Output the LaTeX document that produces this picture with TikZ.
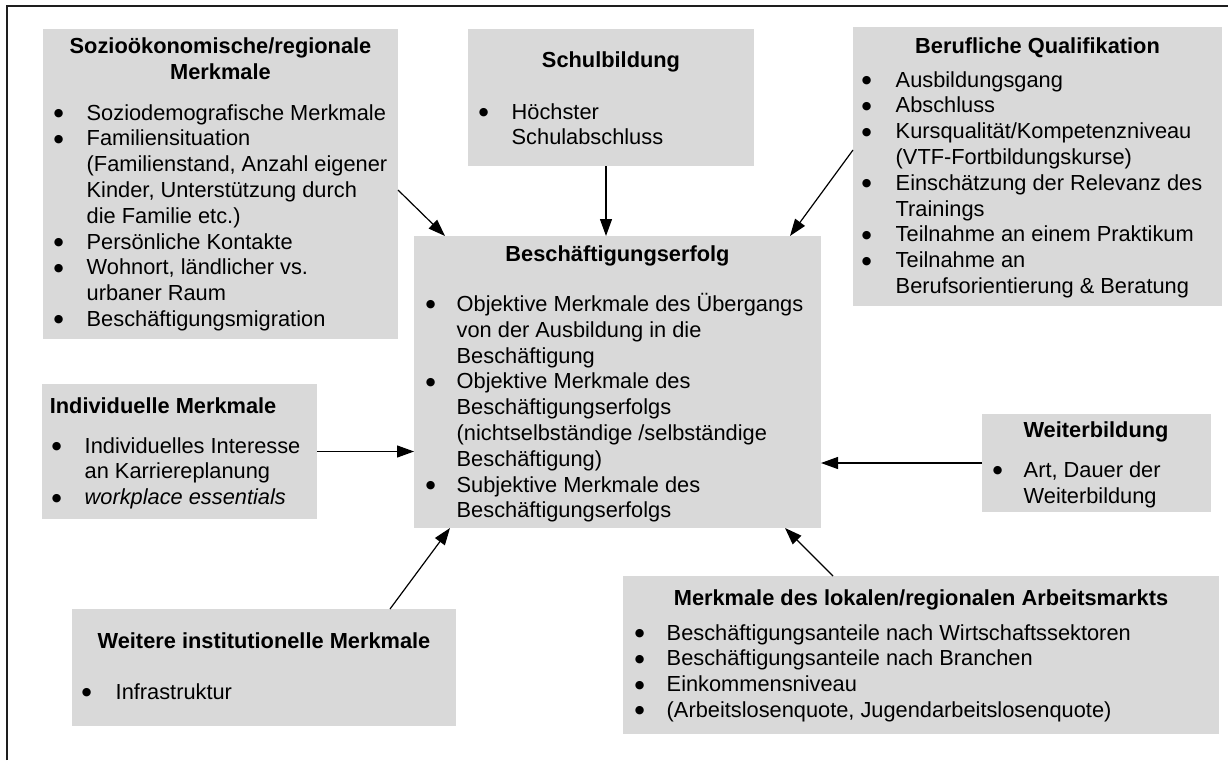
\documentclass[tikz,border=0pt]{standalone}
\usepackage{fontspec}
\setmainfont{Liberation Sans}
\newfontfamily\symfont{DejaVu Sans}
\usetikzlibrary{arrows.meta}
\definecolor{boxgray}{RGB}{217,217,217}
\definecolor{framegray}{RGB}{30,30,30}

% bullet cell of a list row
\newlength\bw
\newcommand\bl{\makebox[\bw][l]{\raisebox{3.6pt}{\symfont\fontsize{11pt}{11pt}\selectfont ●}}}

% grey box: name, x1, y1, x2, y2 (y grows downwards)
\newcommand\gbox[5]{%
  \node[box, minimum width={(#4-#2)*1pt}, minimum height={(#5-#3)*1pt}] (#1) at (#2,#3) {};}

% bullet list: name, bullet centre x, text x, first baseline, rows
\newcommand\blist[5]{%
  \setlength\bw{\dimexpr #3pt-#2pt+1.9pt\relax}%
  \node[lst] (#1) at (#2-3.4,#4) {\begin{tabular}[t]{@{}l@{}l@{}}#5\end{tabular}};}

\tikzset{
  box/.style={fill=boxgray, draw=none, inner sep=0pt, outer sep=0pt, anchor=north west},
  ttl/.style={font=\fontsize{21.8pt}{25.8pt}\selectfont\bfseries, inner sep=0pt, anchor=base},
  lst/.style={font=\fontsize{21.8pt}{25.8pt}\selectfont, inner sep=0pt, anchor=base west},
  arr/.style={line width=1.2pt, -{Triangle[length=17pt,width=12pt]}},
  frame/.style={line width=2pt, draw=framegray},
}

\begin{document}
\begin{tikzpicture}[x=1pt,y=-1pt]
\useasboundingbox (0,0) rectangle (1228,760);

% outer frame (only its top and left sides fall inside the page)
\draw[frame] (7,760) -- (7,6) -- (1228,6);

% boxes
\gbox{soz}{43}{29}{398}{339}
\gbox{schul}{468}{29}{754}{166}
\gbox{beruf}{853}{27}{1222}{306}
\gbox{cen}{414}{236}{821}{528}
\gbox{indiv}{42}{384}{317}{519}
\gbox{weit}{72}{609}{456}{726}
\gbox{wb}{982}{414}{1211}{512}
\gbox{lok}{623}{576}{1219}{734}

% titles
\node[ttl] (soz-t) at (220.5,54) {\begin{tabular}[t]{@{}c@{}}Sozioökonomische/regionale\\Merkmale\end{tabular}};
\node[ttl] (schul-t) at (611,67) {Schulbildung};
\node[ttl] (beruf-t) at (1037.5,54) {Berufliche Qualifikation};
\node[ttl] (cen-t) at (617.5,261) {Beschäftigungserfolg};
\node[ttl, anchor=base west] (indiv-t) at (49.6,413) {Individuelle Merkmale};
\node[ttl] (weit-t) at (264,648) {Weitere institutionelle Merkmale};
\node[ttl] (wb-t) at (1096,437.5) {Weiterbildung};
\node[ttl] (lok-t) at (921,605) {Merkmale des lokalen/regionalen Arbeitsmarkts};

% lists
\blist{soz-l}{57}{88}{120}{%
\bl & Soziodemografische Merkmale\\
\bl & Familiensituation\\
& (Familienstand, Anzahl eigener\\
& Kinder, Unterstützung durch\\
& die Familie etc.)\\
\bl & Persönliche Kontakte\\
\bl & Wohnort, ländlicher vs.\\
& urbaner Raum\\
\bl & Beschäftigungsmigration}

\blist{schul-l}{482}{513}{119}{%
\bl & Höchster\\
& Schulabschluss}

\blist{beruf-l}{865}{897}{87}{%
\bl & Ausbildungsgang\\
\bl & Abschluss\\
\bl & Kursqualität/Kompetenzniveau\\
& (VTF-Fortbildungskurse)\\
\bl & Einschätzung der Relevanz des\\
& Trainings\\
\bl & Teilnahme an einem Praktikum\\
\bl & Teilnahme an\\
& Berufsorientierung \& Beratung}

\blist{cen-l}{429}{458}{311.5}{%
\bl & Objektive Merkmale des Übergangs\\
& von der Ausbildung in die\\
& Beschäftigung\\
\bl & Objektive Merkmale des\\
& Beschäftigungserfolgs\\
& (nichtselbständige /selbständige\\
& Beschäftigung)\\
\bl & Subjektive Merkmale des\\
& Beschäftigungserfolgs}

\blist{indiv-l}{55}{86}{453}{%
\bl & Individuelles Interesse\\
& an Karriereplanung\\
\bl & \textit{workplace essentials}}

\blist{weit-l}{85}{117}{699}{%
\bl & Infrastruktur}

\blist{wb-l}{996}{1025}{477.3}{%
\bl & Art, Dauer der\\
& Weiterbildung}

\blist{lok-l}{638}{668}{640}{%
\bl & Beschäftigungsanteile nach Wirtschaftssektoren\\
\bl & Beschäftigungsanteile nach Branchen\\
\bl & Einkommensniveau\\
\bl & (Arbeitslosenquote, Jugendarbeitslosenquote)}

% influences on employment success
\draw[arr] ([yshift=-6pt]soz.east) -- ([xshift=31pt]cen.north west);
\draw[arr] ([xshift=-5pt]schul.south) -- ([xshift=-5pt]schul.south |- cen.north);
\draw[arr] ([yshift=16.5pt]beruf.west) -- ([xshift=-31pt]cen.north east);
\draw[arr] (indiv.east) -- (indiv.east -| cen.west);
\draw[arr] ([xshift=126pt]weit.north) -- ([xshift=36pt]cen.south west);
\draw[arr] (wb.west) -- (wb.west -| cen.east);
\draw[arr] ([xshift=-88pt]lok.north) -- ([xshift=-36pt]cen.south east);
\end{tikzpicture}
\end{document}
